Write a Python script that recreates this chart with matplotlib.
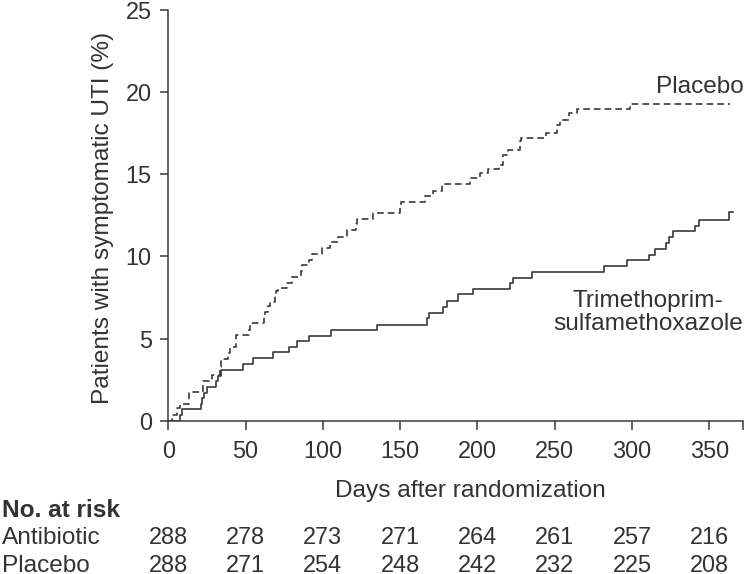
import matplotlib
matplotlib.use("Agg")
import matplotlib.pyplot as plt
from matplotlib.transforms import blended_transform_factory

# ---------------- data ----------------
t_anti = [0, 7.5, 8.7, 21.2, 22.0, 23.0, 24.8, 30.6, 32.4, 34.1, 48.3, 54.8, 67.6, 78.3, 83.5,
          91.2, 105.3, 135.2, 167.2, 168.7, 177.9, 180.1, 187.5, 197.3, 221.1, 223.2, 235.1,
          281.9, 297.0, 311.2, 314.9, 322.0, 324.1, 326.7, 340.8, 343.3, 362.8, 365.3]
y_anti = [0, 0.35, 0.69, 1.04, 1.39, 1.67, 2.05, 2.42, 2.74, 3.11, 3.47, 3.82, 4.16, 4.49, 4.84,
          5.18, 5.50, 5.85, 6.23, 6.58, 6.94, 7.31, 7.70, 8.02, 8.37, 8.71, 9.06,
          9.42, 9.77, 10.09, 10.46, 10.80, 11.17, 11.53, 11.87, 12.22, 12.73, 12.73]

t_plac = [0, 2.2, 5.8, 7.6, 13.5, 22.7, 28.1, 33.4, 34.4, 38.8, 40.0, 43.5, 52.0, 52.8, 62.0,
          62.8, 64.7, 65.5, 69.3, 69.8, 71.2, 76.6, 80.2, 85.6, 86.3, 91.0, 92.8, 99.2, 104.6,
          110.0, 115.4, 121.2, 121.9, 132.2, 149.9, 150.5, 166.0, 171.5, 176.9, 195.2, 201.7,
          207.0, 214.0, 216.8, 220.0, 227.5, 228.2, 244.4, 251.3, 253.4, 259.4, 264.2, 298.7, 363.4]
y_plac = [0, 0.35, 0.75, 1.04, 1.77, 2.42, 2.78, 3.29, 3.75, 4.14, 4.50, 5.20, 5.55, 5.93, 6.30,
          6.64, 7.00, 7.25, 7.60, 7.90, 8.06, 8.40, 8.77, 9.10, 9.48, 9.80, 10.15, 10.50, 10.90,
          11.20, 11.60, 11.95, 12.26, 12.63, 13.00, 13.34, 13.68, 14.00, 14.42, 14.76, 15.07,
          15.30, 15.57, 16.18, 16.49, 17.00, 17.20, 17.54, 18.00, 18.30, 18.72, 18.96, 19.29, 19.29]

x_ticks = [0, 50, 100, 150, 200, 250, 300, 350]
y_ticks = [0, 5, 10, 15, 20, 25]
risk_groups = ["Antibiotic", "Placebo"]
risk_antibiotic = [288, 278, 273, 271, 264, 261, 257, 216]
risk_placebo = [288, 271, 254, 248, 242, 232, 225, 208]

# ---------------- style ----------------
W, H = 746, 574
DPI = 100
TXT = "#333333"
LINE = "#3a3a3a"
plt.rcParams["font.family"] = ["Liberation Sans", "DejaVu Sans"]
plt.rcParams["lines.scale_dashes"] = False

fig = plt.figure(figsize=(W / DPI, H / DPI), dpi=DPI)
ax = fig.add_axes([168.3 / W, 1 - 420.7 / H, (743.3 - 168.3) / W, (420.7 - 10) / H])

ax.plot(t_anti, y_anti, drawstyle="steps-post", color=LINE, lw=1.2)
ax.plot(t_plac, y_plac, drawstyle="steps-post", color=LINE, lw=1.2, dashes=(4.8, 2.9))

ax.set_xlim(0, 372)
ax.set_ylim(0, 25)
ax.set_xticks(x_ticks)
ax.set_xticks([372], minor=True)
ax.set_yticks(y_ticks)
for s in ["top", "right"]:
    ax.spines[s].set_visible(False)
for s in ["left", "bottom"]:
    ax.spines[s].set_color(LINE)
    ax.spines[s].set_linewidth(1.1)
ax.tick_params(axis="x", which="both", length=6.7, width=1.1, color=LINE, pad=7.0,
               labelsize=16.9, labelcolor=TXT)
ax.tick_params(axis="y", length=6.0, width=1.1, color=LINE, pad=6.0,
               labelsize=16.9, labelcolor=TXT)

# curve labels
ax.text(372, 19.95, "Placebo", ha="right", va="baseline", fontsize=17.6, color=TXT)
ax.text(310.3, 6.94, "Trimethoprim-", ha="center", va="baseline", fontsize=17.6, color=TXT)
ax.text(310.3, 5.52, "sulfamethoxazole", ha="center", va="baseline", fontsize=17.6, color=TXT)

# axis labels
fig.text(103.5 / W, 1 - 217.5 / H, "Patients with symptomatic UTI (%)", rotation=90,
         ha="center", va="center", fontsize=17.6, color=TXT)
fig.text(470 / W, 1 - 497 / H, "Days after randomization", ha="center", va="baseline",
         fontsize=17.6, color=TXT)

# number at risk table
fig.text(2 / W, 1 - 516.7 / H, "No. at risk", ha="left", va="baseline", fontsize=17.6,
         fontweight="bold", color=TXT)
trans = blended_transform_factory(ax.transData, fig.transFigure)
rows = [risk_antibiotic, risk_placebo]
baselines = [543.5, 571.5]
for name, vals, yb in zip(risk_groups, rows, baselines):
    fig.text(2 / W, 1 - yb / H, name, ha="left", va="baseline", fontsize=17.6, color=TXT)
    for xt, v in zip(x_ticks, vals):
        ax.text(xt, 1 - yb / H, str(v), transform=trans, ha="center", va="baseline",
                fontsize=16.9, color=TXT, clip_on=False)

fig.savefig("out.png", dpi=DPI)
